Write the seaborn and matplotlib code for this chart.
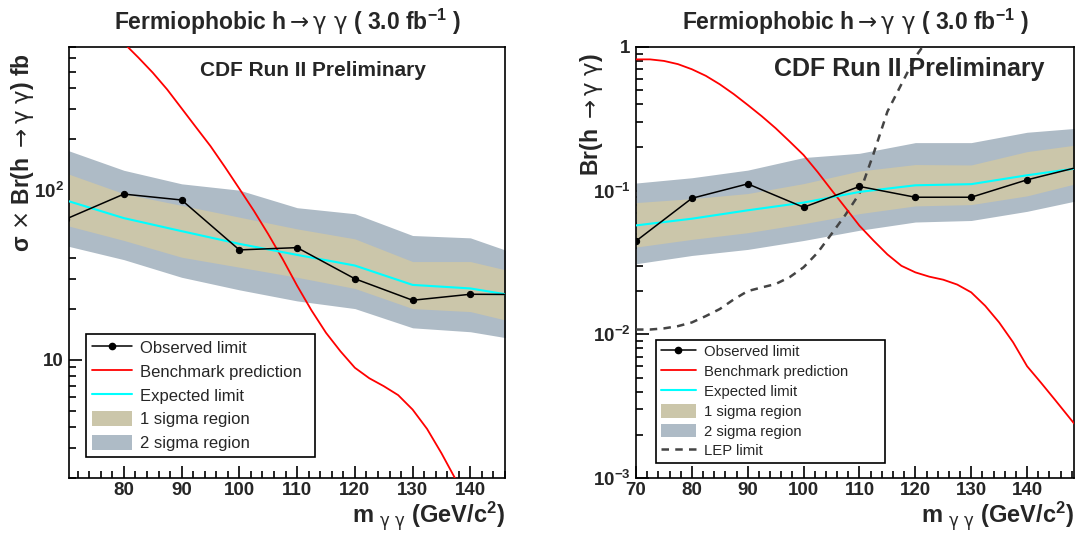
import numpy as np
import pandas as pd
import matplotlib
matplotlib.use("Agg")
import matplotlib.pyplot as plt
import seaborn as sns
from matplotlib.ticker import MultipleLocator, LogLocator, NullFormatter, FixedLocator, FixedFormatter
from matplotlib.lines import Line2D
from matplotlib.patches import Patch

# ---------------- data ----------------
mass = [70, 80, 90, 100, 110, 120, 130, 140, 150]

# left panel: sigma x Br (fb)
xs_observed = [67.6, 94.8, 87.5, 44.4, 45.8, 30.0, 22.4, 24.3, 24.2]
xs_expected = [87.0, 68.4, 57.3, 48.2, 41.5, 35.9, 27.6, 26.3, 23.1]
xs_1s_lo = [62.0, 50.5, 40.2, 35.1, 30.6, 26.3, 20.0, 19.2, 15.9]
xs_1s_hi = [126.0, 95.3, 81.3, 69.3, 59.1, 51.6, 37.9, 37.9, 31.5]
xs_2s_lo = [47.0, 38.9, 30.6, 25.8, 22.2, 20.0, 15.4, 14.6, 12.8]
xs_2s_hi = [173.0, 131.0, 109.0, 100.0, 78.8, 72.6, 54.0, 52.3, 39.8]

bench_mass_l = [80, 82.5, 85, 87.5, 90, 92.5, 95, 97.5, 100, 102.5, 105, 107.5, 110,
                112.5, 115, 117.5, 120, 122.5, 125, 127.5, 130, 132.5, 135, 137.5]
bench_xs = [738, 607, 494, 393, 304, 235, 182, 137, 102, 75.7, 55, 39.2, 27.3,
            19.5, 14.4, 11.2, 8.95, 7.76, 6.97, 6.17, 5.07, 3.9, 2.8, 1.95]

# right panel: Br(h -> gamma gamma)
br_observed = [0.0446, 0.0885, 0.1115, 0.0766, 0.107, 0.090, 0.090, 0.119, 0.1486]
br_expected = [0.0573, 0.0638, 0.073, 0.0826, 0.098, 0.109, 0.111, 0.128, 0.145]
br_1s_lo = [0.0405, 0.0458, 0.0510, 0.0589, 0.0692, 0.0783, 0.080, 0.092, 0.115]
br_1s_hi = [0.0826, 0.088, 0.0955, 0.112, 0.137, 0.152, 0.151, 0.187, 0.211]
br_2s_lo = [0.031, 0.0354, 0.039, 0.045, 0.053, 0.0605, 0.062, 0.0718, 0.0869]
br_2s_hi = [0.113, 0.123, 0.139, 0.170, 0.182, 0.216, 0.216, 0.255, 0.274]

bench_mass_r = [70, 72.5, 75, 77.5, 80, 82.5, 85, 87.5, 90, 92.5, 95, 97.5, 100,
                102.5, 105, 107.5, 110, 112.5, 115, 117.5, 120, 122.5, 125, 127.5,
                130, 132.5, 135, 137.5, 140, 142.5, 145, 148.4, 150]
bench_br = [0.82, 0.82, 0.80, 0.76, 0.70, 0.63, 0.55, 0.47, 0.395, 0.33, 0.272, 0.22, 0.177,
            0.135, 0.101, 0.076, 0.057, 0.045, 0.036, 0.030, 0.027, 0.0252, 0.024, 0.0222,
            0.0196, 0.0158, 0.0121, 0.0088, 0.0060, 0.0046, 0.0035, 0.0024, 0.0021]

lep_mass = [70, 72.5, 75, 77.5, 80, 82.5, 85, 87.5, 90, 92.5, 95, 97.5, 100,
            102.5, 105, 107.5, 110, 112.5, 115, 117.5, 120, 122]
lep_br = [0.0108, 0.0108, 0.0110, 0.0114, 0.0121, 0.0134, 0.0150, 0.0175, 0.0200, 0.0212,
          0.0224, 0.0250, 0.0293, 0.037, 0.050, 0.068, 0.0955, 0.18, 0.355, 0.55, 0.85, 1.1]

legend_labels = ["Observed limit", "Benchmark prediction", "Expected limit",
                 "1 sigma region", "2 sigma region", "LEP limit"]

# ---------------- style ----------------
sns.set_theme(style="ticks")
plt.rcParams["font.family"] = ["Liberation Sans", "DejaVu Sans"]
plt.rcParams["mathtext.fontset"] = "custom"
plt.rcParams["mathtext.rm"] = "Liberation Sans:bold"
plt.rcParams["mathtext.bf"] = "Liberation Sans:bold"
plt.rcParams["mathtext.it"] = "Liberation Sans:bold"
plt.rcParams["mathtext.sf"] = "DejaVu Sans"
plt.rcParams["mathtext.default"] = "rm"

C1 = "#CBC6AA"
C2 = "#AEBBC6"

TITLE = "Fermiophobic h$\\mathsf{\\rightarrow γ\\ γ}$ ( 3.0 fb$^{-1}$ )"
XLABEL = "m $_{\\mathsf{γ\\ γ}}$ (GeV/c$^{2}$)"

fig = plt.figure(figsize=(10.78, 5.33), dpi=100)
ax1 = fig.add_axes([69 / 1078, 55 / 533, 436 / 1078, 431 / 533])
ax2 = fig.add_axes([636 / 1078, 55 / 533, 438 / 1078, 431 / 533])


def draw_bands(ax, lo2, hi2, lo1, hi1):
    ax.fill_between(mass, lo2, hi2, color=C2, lw=0, zorder=1)
    ax.fill_between(mass, lo1, hi1, color=C1, lw=0, zorder=2)


def style_axis(ax, xlim, ylim, yticks, yticklabels, xticks):
    ax.set_yscale("log")
    ax.set_xlim(*xlim)
    ax.set_ylim(*ylim)
    ax.xaxis.set_major_locator(FixedLocator(xticks))
    ax.xaxis.set_minor_locator(MultipleLocator(2))
    ax.yaxis.set_major_locator(FixedLocator(yticks))
    ax.yaxis.set_major_formatter(FixedFormatter(yticklabels))
    ax.yaxis.set_minor_locator(LogLocator(base=10, subs=np.arange(2, 10), numticks=20))
    ax.yaxis.set_minor_formatter(NullFormatter())
    ax.tick_params(which="both", direction="in", top=False, right=False,
                   width=1.2, color="black")
    ax.tick_params(which="major", length=9, labelsize=13.5, pad=4)
    ax.tick_params(axis="x", which="major", pad=3)
    ax.tick_params(which="minor", length=5)
    for lab in ax.get_xticklabels() + ax.get_yticklabels():
        lab.set_fontweight("bold")
    for sp in ax.spines.values():
        sp.set_linewidth(1.2)
        sp.set_color("black")
        sp.set_visible(True)
    ax.set_facecolor("white")
    ax.grid(False)


def legend_handles(with_lep):
    h = [Line2D([], [], color="black", lw=1.1, marker="o", markersize=4.5),
         Line2D([], [], color="red", lw=1.3),
         Line2D([], [], color="cyan", lw=1.5),
         Patch(facecolor=C1, edgecolor="none"),
         Patch(facecolor=C2, edgecolor="none")]
    if with_lep:
        h.append(Line2D([], [], color="#444444", lw=1.8, linestyle=(0, (3, 2.5))))
    return h


# ---------------- left panel ----------------
draw_bands(ax1, xs_2s_lo, xs_2s_hi, xs_1s_lo, xs_1s_hi)
sns.lineplot(x=bench_mass_l, y=bench_xs, ax=ax1, color="red", lw=1.3, zorder=3)
sns.lineplot(x=mass, y=xs_expected, ax=ax1, color="cyan", lw=1.5, zorder=4)
sns.lineplot(x=mass, y=xs_observed, ax=ax1, color="black", lw=1.1, marker="o",
             markersize=4.5, markeredgecolor="black", zorder=5)
style_axis(ax1, (70.5, 146), (2, 700), [10, 100], ["10", "10$^{2}$"],
           [80, 90, 100, 110, 120, 130, 140])

ax1.set_title(TITLE, fontsize=16.5, fontweight="bold", pad=12)
ax1.set_ylabel("σ $\\mathsf{×}$ Br(h $\\mathsf{\\rightarrow γ\\ γ}$) fb", fontsize=16.5,
               fontweight="bold", loc="top")
ax1.yaxis.set_label_coords(-0.075, 0.985)
ax1.set_xlabel(XLABEL, fontsize=17, fontweight="bold", loc="right")
ax1.xaxis.set_label_coords(1.0, -0.05)
ax1.xaxis.label.set_va("top")
ax1.text(0.56, 0.945, "CDF Run II Preliminary", transform=ax1.transAxes, ha="center",
         va="center", fontsize=15, fontweight="bold")
leg1 = ax1.legend(legend_handles(False), legend_labels[:5], loc="lower left",
                  bbox_to_anchor=(0.039, 0.049, 0.525, 0.285), mode="expand",
                  fontsize=12, frameon=True, fancybox=False, edgecolor="black",
                  framealpha=1, borderpad=0.35, labelspacing=0.44, handlelength=2.4,
                  handleheight=1.05, handletextpad=0.5, borderaxespad=0)
leg1.get_frame().set_linewidth(1.2)

# ---------------- right panel ----------------
draw_bands(ax2, br_2s_lo, br_2s_hi, br_1s_lo, br_1s_hi)
sns.lineplot(x=lep_mass, y=lep_br, ax=ax2, color="#444444", lw=1.8,
             linestyle=(0, (3, 2.5)), zorder=3)
sns.lineplot(x=bench_mass_r, y=bench_br, ax=ax2, color="red", lw=1.3, zorder=3)
sns.lineplot(x=mass, y=br_expected, ax=ax2, color="cyan", lw=1.5, zorder=4)
sns.lineplot(x=mass, y=br_observed, ax=ax2, color="black", lw=1.1, marker="o",
             markersize=4.5, markeredgecolor="black", zorder=5)
style_axis(ax2, (70, 148.4), (1e-3, 1), [1e-3, 1e-2, 1e-1, 1],
           ["10$^{-3}$", "10$^{-2}$", "10$^{-1}$", "1"],
           [70, 80, 90, 100, 110, 120, 130, 140])

ax2.set_title(TITLE, fontsize=16.5, fontweight="bold", pad=12)
ax2.set_ylabel("Br(h $\\mathsf{\\rightarrow γ\\ γ}$)", fontsize=16.5, fontweight="bold",
               loc="top")
ax2.yaxis.set_label_coords(-0.07, 0.985)
ax2.set_xlabel(XLABEL, fontsize=17, fontweight="bold", loc="right")
ax2.xaxis.set_label_coords(1.0, -0.05)
ax2.xaxis.label.set_va("top")
ax2.text(0.625, 0.95, "CDF Run II Preliminary", transform=ax2.transAxes, ha="center",
         va="center", fontsize=18, fontweight="bold")
leg2 = ax2.legend(legend_handles(True), legend_labels, loc="lower left",
                  bbox_to_anchor=(0.046, 0.035, 0.522, 0.288), mode="expand",
                  fontsize=10.7, frameon=True, fancybox=False, edgecolor="black",
                  framealpha=1, borderpad=0.3, labelspacing=0.33, handlelength=2.4,
                  handleheight=1.05, handletextpad=0.5, borderaxespad=0)
leg2.get_frame().set_linewidth(1.2)

fig.savefig("out.png", dpi=100, facecolor="white")
